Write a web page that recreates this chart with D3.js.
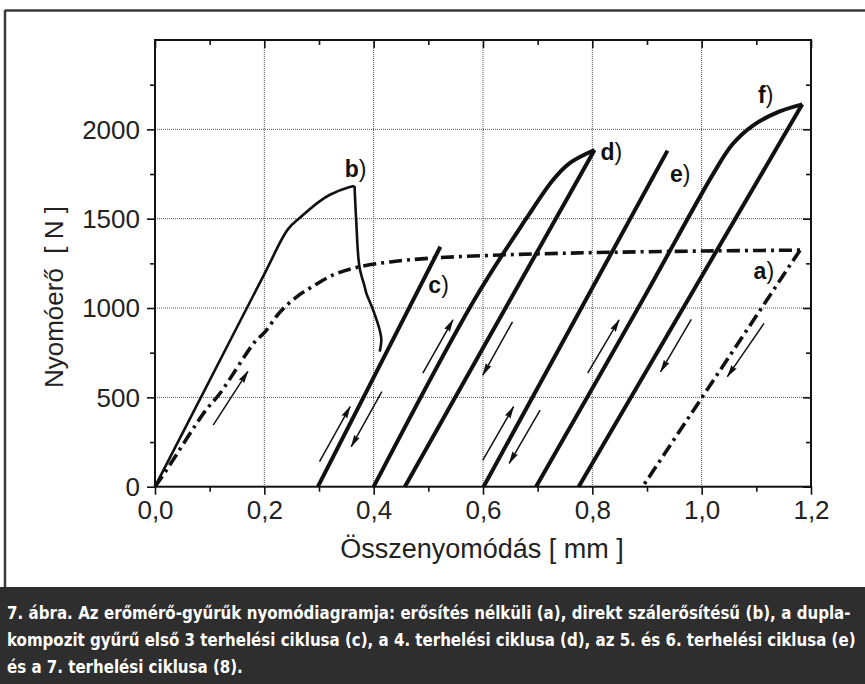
<!DOCTYPE html>
<html><head><meta charset="utf-8">
<script src="https://cdn.jsdelivr.net/npm/d3@7"></script>
<style>body{margin:0;background:#fff}svg{display:block}</style>
</head><body>
<svg id="c" width="865" height="684"></svg>
<script>
// ---- data ----
const xTickValues = [0, 0.2, 0.4, 0.6, 0.8, 1.0, 1.2];
const xMinorValues = [0.1, 0.3, 0.5, 0.7, 0.9, 1.1];
const yTickValues = [0, 500, 1000, 1500, 2000];
const yMinorValues = [250, 750, 1250, 1750, 2250];
const xTitle = "Összenyomódás [ mm ]";
const yTitle = "Nyomóerő  [ N ]";

// a) unreinforced (dash-dot)
const curveA = [[0,0],[0.021,93],[0.091,420],[0.119,523],[0.183,812],[0.2,862],[0.228,975],[0.258,1060],[0.289,1122],[0.326,1185],[0.37,1228],[0.43,1258],[0.5,1278],[0.6,1293],[0.7,1303],[0.837,1312],[1.0,1319],[1.18,1324]];
const curveAUnload = [[1.18,1324],[0.892,0]];
// b) direct fibre reinforced
const curveB = [[0,0],[0.1,595],[0.2,1190],[0.243,1440],[0.265,1505],[0.301,1597],[0.32,1634],[0.356,1677],[0.365,1683]];
const curveBDrop = [[0.365,1683],[0.368,1493],[0.374,1231],[0.3836,1119],[0.3867,1082],[0.399,989],[0.411,877],[0.414,821],[0.411,756]];
// c) first 3 loading cycles
const lineC = [[0.298,0],[0.522,1343]];
// d) 4th cycle
const curveDLoad = [[0.4,0],[0.584,1045],[0.679,1500],[0.728,1717],[0.758,1810],[0.788,1862],[0.804,1884]];
const lineDUnload = [[0.804,1884],[0.457,0]];
// e) 5th and 6th cycles
const lineE = [[0.601,0],[0.9375,1881]];
// f) 7th cycle
const curveFLoad = [[0.697,0],[0.892,1045],[1.02,1745],[1.056,1915],[1.093,2020],[1.1416,2099],[1.184,2140]];
const lineFUnload = [[1.184,2140],[0.775,0]];
// direction arrows [x1,y1,x2,y2]
const arrows = [
  [0.1065,345,0.170,645],
  [0.301,140,0.357,448],
  [0.415,532,0.359,224],
  [0.49,635,0.545,933],
  [0.654,923,0.5997,625],
  [0.5997,149,0.656,448],
  [0.7045,429,0.648,131],
  [0.7915,635,0.849,933],
  [0.981,937,0.925,644],
  [1.114,914,1.047,616]
];
// curve labels [letter, x, y]
const labels = [
  ["a", 1.095, 1165],
  ["b", 0.347, 1733],
  ["c", 0.5, 1082],
  ["d", 0.815, 1829],
  ["e", 0.942, 1704],
  ["f", 1.103, 2145]
];
const captionLines = [
  "7. ábra. Az erőmérő-gyűrűk nyomódiagramja: erősítés nélküli (a), direkt szálerősítésű (b), a dupla-",
  "kompozit gyűrű első 3 terhelési ciklusa (c), a 4. terhelési ciklusa (d), az 5. és 6. terhelési ciklusa (e)",
  "és a 7. terhelési ciklusa (8)."
];

// ---- drawing ----
const svg = d3.select("#c");
const L = 155, R = 811, T = 40, B = 486.7;
const x = d3.scaleLinear().domain([0, 1.2]).range([L, R]);
const y = d3.scaleLinear().domain([0, 2500]).range([B, T]);
const fmt = v => d3.format(".1f")(v).replace(".", ",");
const FONT = "'Liberation Sans', Arial, sans-serif";

// outer frame
svg.append("line").attr("x1",5).attr("x2",865).attr("y1",10.5).attr("y2",10.5).attr("stroke","#3a3a3a").attr("stroke-width",2.5);
svg.append("line").attr("x1",5).attr("x2",5).attr("y1",10).attr("y2",587).attr("stroke","#3a3a3a").attr("stroke-width",2.5);

// grid
const g = svg.append("g");
g.selectAll(".gx").data(xTickValues.slice(1, -1)).enter().append("line")
  .attr("x1", d => x(d)).attr("x2", d => x(d)).attr("y1", T).attr("y2", B)
  .attr("stroke", "#555").attr("stroke-width", 1).attr("stroke-dasharray", "1,1");
g.selectAll(".gy").data(yTickValues.slice(1)).enter().append("line")
  .attr("x1", L).attr("x2", R).attr("y1", d => y(d)).attr("y2", d => y(d))
  .attr("stroke", "#555").attr("stroke-width", 1).attr("stroke-dasharray", "1,1");

// axes
function styleAxis(sel) {
  sel.select(".domain").remove();
  sel.selectAll("line").attr("stroke", "#111").attr("stroke-width", 1.6);
  sel.selectAll("text").attr("font-family", FONT).attr("font-size", 26).attr("fill", "#222");
}
const xb = svg.append("g").attr("transform", `translate(0,${B})`)
  .call(d3.axisBottom(x).tickValues(xTickValues).tickFormat(fmt).tickSize(8).tickPadding(6));
styleAxis(xb);
const xbm = svg.append("g").attr("transform", `translate(0,${B})`)
  .call(d3.axisBottom(x).tickValues(xMinorValues).tickFormat("").tickSize(5));
styleAxis(xbm);
const xt = svg.append("g").attr("transform", `translate(0,${T})`)
  .call(d3.axisTop(x).tickValues(xTickValues).tickFormat("").tickSize(-8));
styleAxis(xt);
const xtm = svg.append("g").attr("transform", `translate(0,${T})`)
  .call(d3.axisTop(x).tickValues(xMinorValues).tickFormat("").tickSize(-5));
styleAxis(xtm);
const yl = svg.append("g").attr("transform", `translate(${L},0)`)
  .call(d3.axisLeft(y).tickValues(yTickValues).tickFormat(d3.format("d")).tickSize(8).tickPadding(7));
styleAxis(yl);
const ylm = svg.append("g").attr("transform", `translate(${L},0)`)
  .call(d3.axisLeft(y).tickValues(yMinorValues).tickFormat("").tickSize(5));
styleAxis(ylm);
const yr = svg.append("g").attr("transform", `translate(${R},0)`)
  .call(d3.axisRight(y).tickValues(yTickValues).tickFormat("").tickSize(-8));
styleAxis(yr);
const yrm = svg.append("g").attr("transform", `translate(${R},0)`)
  .call(d3.axisRight(y).tickValues(yMinorValues).tickFormat("").tickSize(-5));
styleAxis(yrm);
yl.selectAll("text").attr("dy", "0.34em");

// plot frame
svg.append("rect").attr("x", L).attr("y", T).attr("width", R - L).attr("height", B - T)
  .attr("fill", "none").attr("stroke", "#111").attr("stroke-width", 2);

// titles
svg.append("text").attr("x", 482).attr("y", 558).attr("text-anchor", "middle")
  .attr("font-family", FONT).attr("font-size", 27).attr("fill", "#222").text(xTitle);
svg.append("text").attr("transform", "translate(63,297) rotate(-90)").attr("text-anchor", "middle")
  .attr("font-family", FONT).attr("font-size", 26).attr("fill", "#222")
  .style("white-space","pre").text(yTitle);

// curves
const smooth = d3.line().x(d => x(d[0])).y(d => y(d[1])).curve(d3.curveCatmullRom.alpha(0.5));
const straight = d3.line().x(d => x(d[0])).y(d => y(d[1]));
const cg = svg.append("g").attr("fill", "none").attr("stroke", "#111").attr("stroke-linecap", "butt").attr("stroke-linejoin", "round");

// a) dash-dot
cg.append("path").attr("d", smooth(curveA)).attr("stroke-width", 3.6).attr("stroke-dasharray", "13,5,3,5");
cg.append("path").attr("d", straight(curveAUnload)).attr("stroke-width", 3.6).attr("stroke-dasharray", "13,5,3,5");
// b)
cg.append("path").attr("d", smooth(curveB)).attr("stroke-width", 2.6);
cg.append("path").attr("d", smooth(curveBDrop)).attr("stroke-width", 2.6);
// c-f
[lineC, lineDUnload, lineE, lineFUnload].forEach(d => cg.append("path").attr("d", straight(d)).attr("stroke-width", 4));
[curveDLoad, curveFLoad].forEach(d => cg.append("path").attr("d", smooth(d)).attr("stroke-width", 4));

// arrows
const defs = svg.append("defs");
defs.append("marker").attr("id", "ah").attr("viewBox", "0 0 13 8").attr("refX", 12).attr("refY", 4)
  .attr("markerWidth", 13).attr("markerHeight", 8).attr("markerUnits", "userSpaceOnUse").attr("orient", "auto")
  .append("path").attr("d", "M0,0.8 L13,4 L0,7.2 L1.5,4 Z").attr("fill", "#111");
svg.append("g").selectAll("line").data(arrows).enter().append("line")
  .attr("x1", d => x(d[0])).attr("y1", d => y(d[1]))
  .attr("x2", d => x(d[2])).attr("y2", d => y(d[3]))
  .attr("stroke", "#111").attr("stroke-width", 1.5).attr("marker-end", "url(#ah)");

// labels
const lt = svg.append("g").selectAll("text").data(labels).enter().append("text")
  .attr("x", d => x(d[1])).attr("y", d => y(d[2]))
  .attr("font-family", FONT).attr("font-size", 23).attr("fill", "#111");
lt.append("tspan").attr("font-weight", "bold").text(d => d[0]);
lt.append("tspan").text(")");

// caption (condensed look: taller glyphs, horizontally scaled to the box width)
svg.append("rect").attr("x", 0).attr("y", 587).attr("width", 865).attr("height", 97).attr("fill", "#2e2e2e");
const capFont = "'DejaVu Sans Condensed', 'DejaVu Sans', sans-serif";
const capText = svg.append("g").selectAll("text").data(captionLines).enter().append("text")
  .attr("x", 0).attr("y", 0)
  .attr("font-family", capFont).attr("font-weight", "bold")
  .attr("font-size", 17.5).attr("fill", "#fff")
  .text(d => d);
const nodes = capText.nodes();
const w2 = nodes[1].getComputedTextLength();
const sx = Math.min(1, 849 / w2);
const w1 = nodes[0].getComputedTextLength();
const gaps1 = (captionLines[0].match(/ /g) || []).length;
const ws1 = Math.max(0, (844 / sx - w1) / gaps1);
d3.select(nodes[0]).attr("word-spacing", ws1);
capText.attr("transform", (d, i) => `translate(7,${619 + i * 26.8}) scale(${sx},1)`);
</script>
</body></html>
